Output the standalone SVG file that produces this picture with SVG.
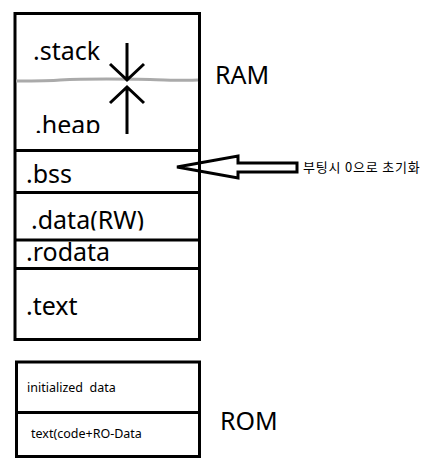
<svg xmlns="http://www.w3.org/2000/svg" width="431" height="469" viewBox="0 0 431 469">
<style>
.box{fill:#fff;stroke:#000;stroke-width:3}
.ln{stroke:#000;stroke-width:3;fill:none}
.lbl{font-family:"Noto Sans","Noto Sans CJK KR",sans-serif;fill:#000}
.big{font-size:25px}
.small{font-size:12.5px}
.note{font-family:"Noto Sans CJK KR","Noto Sans",sans-serif;font-size:13px;letter-spacing:0.8px;fill:#000}
</style>
<defs>
<clipPath id="cHeap"><rect x="16" y="82" width="182" height="51"/></clipPath>
<clipPath id="cData"><rect x="16" y="194" width="182" height="36.5"/></clipPath>
</defs>
<rect width="431" height="469" fill="#fff"/>
<g id="ram">
<rect class="box" x="15" y="13.5" width="184.5" height="326"/>
<path d="M16 81 C30 81,50 81,60 80 C80 79,120 79,150 79.5 C170 80,185 81,198 80" stroke="#aaa" stroke-width="3" fill="none"/>
</g>
<g id="stack"><text class="lbl big" x="33" y="60">.stack</text></g>
<g id="heap"><text class="lbl big" x="35" y="134" clip-path="url(#cHeap)">.heap</text></g>
<g id="bss"><line class="ln" x1="15" y1="150.5" x2="201" y2="150.5"/><text class="lbl big" x="26" y="183">.bss</text></g>
<g id="data"><line class="ln" x1="15" y1="192.5" x2="201" y2="192.5"/><text class="lbl big" x="31" y="229" clip-path="url(#cData)">.data(RW)</text></g>
<g id="rodata"><line class="ln" x1="15" y1="240" x2="201" y2="240"/><text class="lbl big" x="26" y="261">.rodata</text></g>
<g id="text"><line class="ln" x1="15" y1="268.5" x2="201" y2="268.5"/><text class="lbl big" x="26" y="315">.text</text></g>
<g id="ramLabel"><text class="lbl big" x="215" y="84">RAM</text></g>
<g id="rom">
<rect class="box" x="16.5" y="362" width="183" height="94.5"/>
<line class="ln" x1="15" y1="412.5" x2="199.5" y2="412.5"/>
<text class="lbl small" x="27" y="392" xml:space="preserve">initialized  data</text>
<text class="lbl small" x="31" y="438">text(code+RO-Data</text>
</g>
<g id="romLabel"><text class="lbl big" x="220" y="430">ROM</text></g>
<g id="connectors">
<path class="ln" d="M127 43 V80 M110 64 L127 80 L144 64"/>
<path class="ln" d="M127 134 V87 M110 103 L127 87 L144 103"/>
<polygon class="ln" points="177,167 238,156 238,163 297,163 297,172 238,172 238,178"/>
</g>
<g id="note"><text class="note" x="303" y="172">부팅시 0으로 초기화</text></g>
</svg>
